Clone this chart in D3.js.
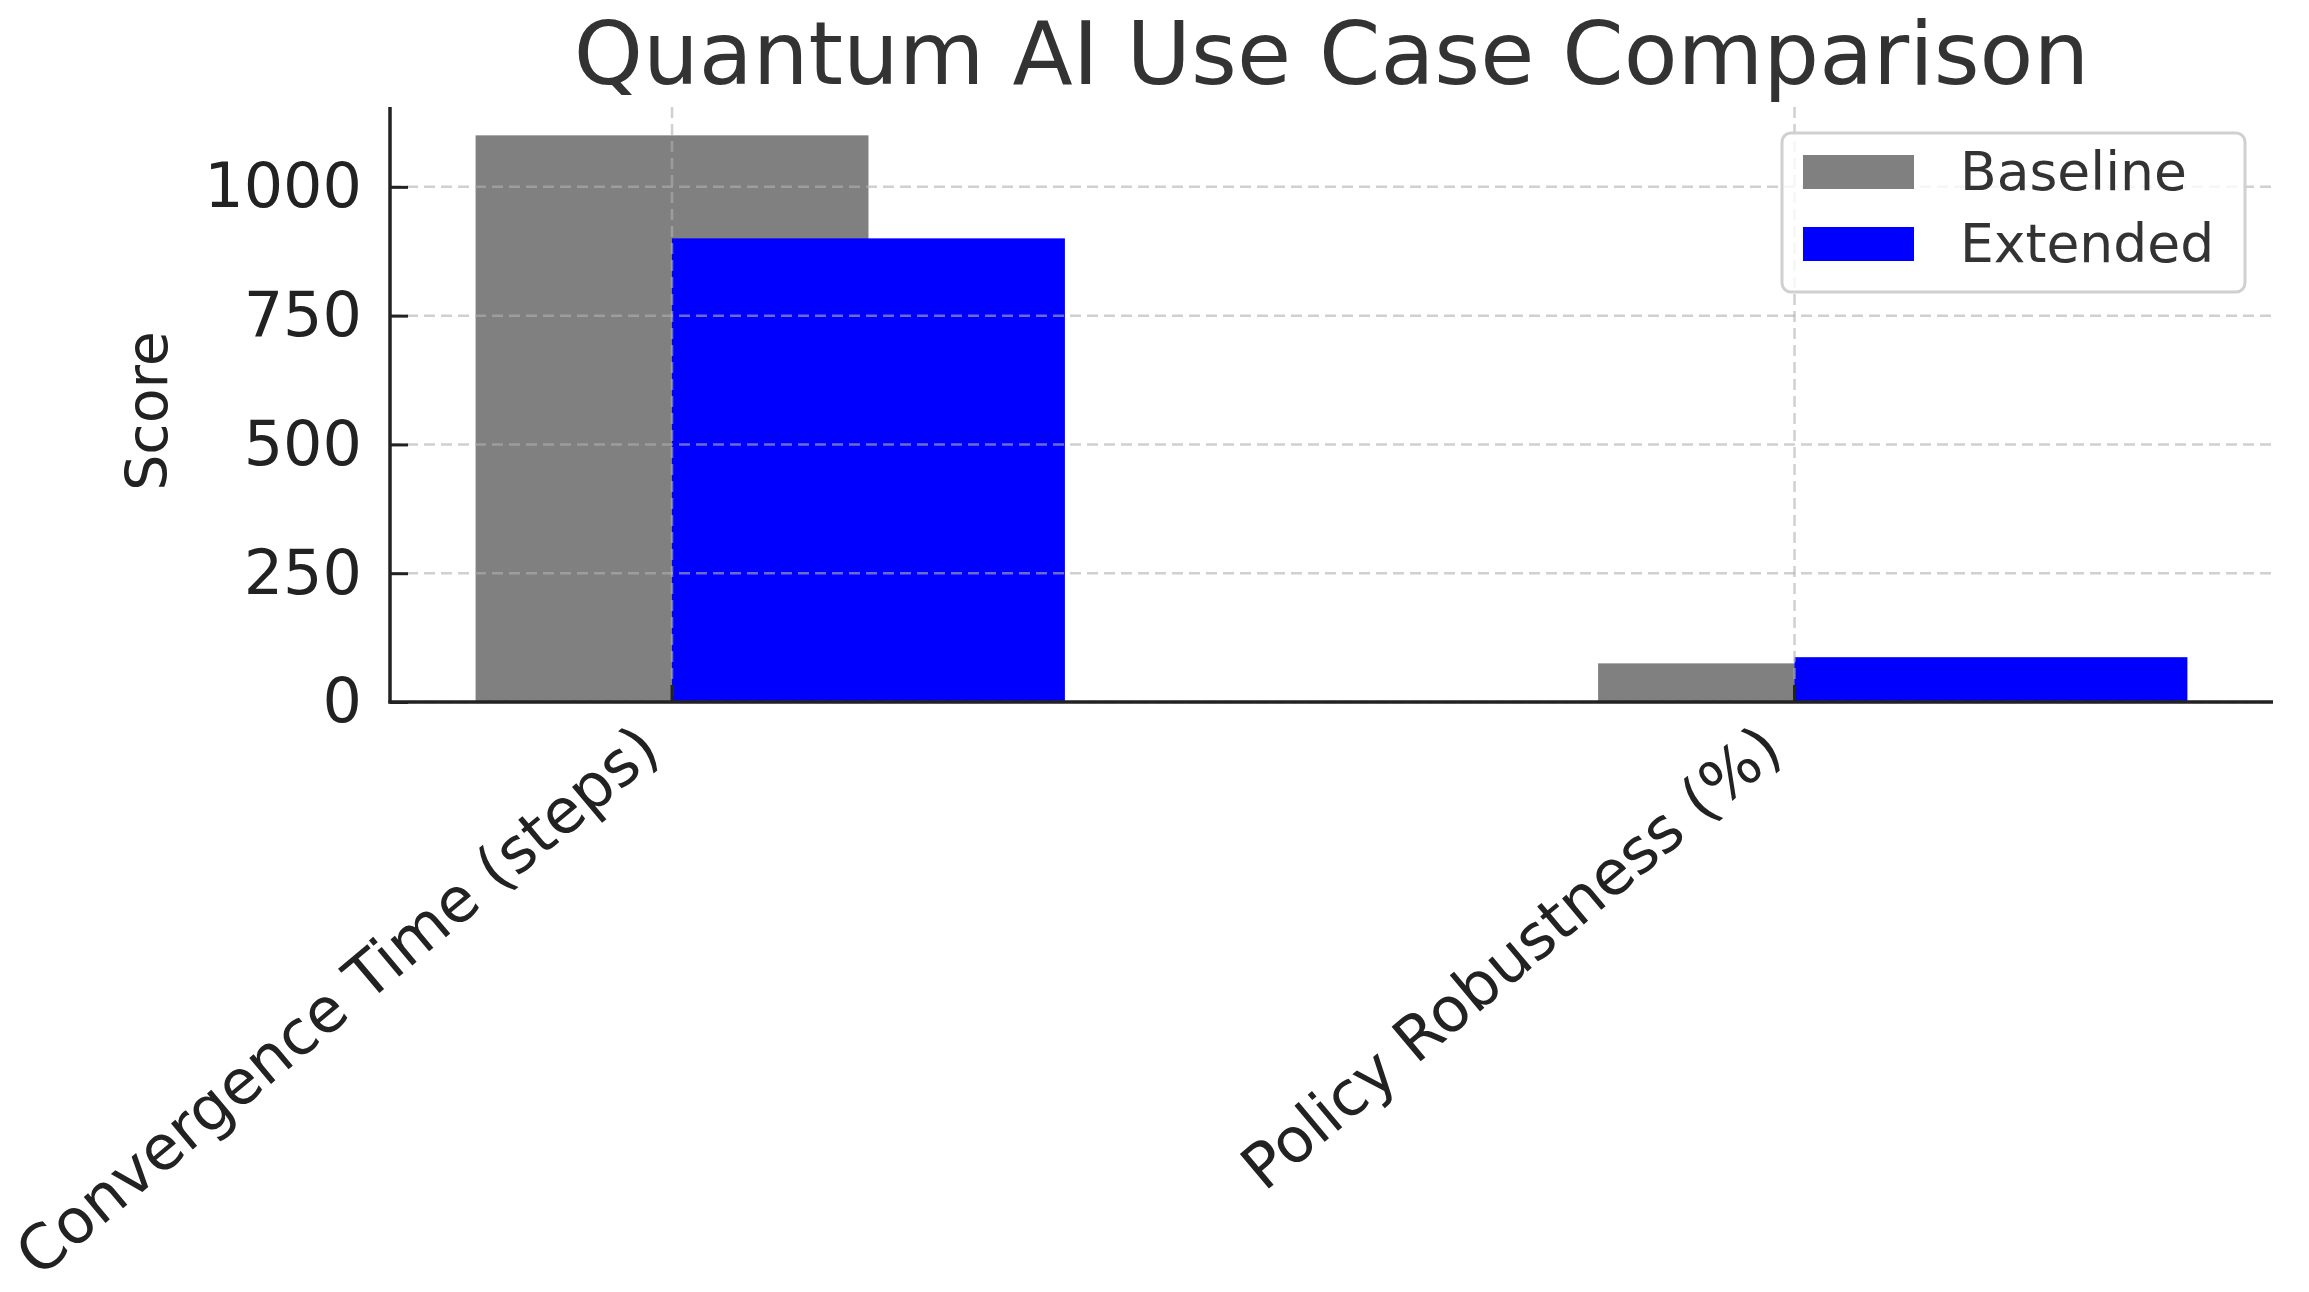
<!DOCTYPE html>
<html>
<head>
<meta charset="utf-8">
<script src="https://cdn.jsdelivr.net/npm/d3@7"></script>
<style>
  html, body { margin: 0; padding: 0; background: #fff; }
  svg { display: block; }
</style>
</head>
<body>
<svg id="chart"></svg>
<script>
const categories = ['Convergence Time (steps)', 'Policy Robustness (%)']
const seriesNames = ['Baseline', 'Extended']
const baseline = [1100, 75]
const extended = [900, 87]
const yTicks = [0, 250, 500, 750, 1000]
const colors = ['#808080', '#0000ff']

const width = 2309
const height = 1292
const plotLeft = 390, plotRight = 2273, plotTop = 107, plotBottom = 702
const barW = 0.35
const font = 'DejaVu Sans, sans-serif'

const svg = d3.select('#chart').attr('width', width).attr('height', height)

const x = d3.scaleLinear()
  .domain([-barW / 2 - 0.07625, 1 + barW + 0.07625])
  .range([plotLeft, plotRight])

const y = d3.scaleLinear()
  .domain([0, 1155])
  .range([plotBottom, plotTop])

const bars = svg.append('g')

// baseline bars are centred on the tick, extended ones start at the tick
bars.selectAll('rect.base')
  .data(baseline)
  .enter()
  .append('rect')
    .attr('class', 'base')
    .attr('x', (d, i) => x(i - barW / 2))
    .attr('width', x(barW) - x(0))
    .attr('y', d => y(d))
    .attr('height', d => y(0) - y(d))
    .style('fill', colors[0])

bars.selectAll('rect.ext')
  .data(extended)
  .enter()
  .append('rect')
    .attr('class', 'ext')
    .attr('x', (d, i) => x(i))
    .attr('width', x(barW) - x(0))
    .attr('y', d => y(d))
    .attr('height', d => y(0) - y(d))
    .style('fill', colors[1])

// grid sits above the bars
const grid = svg.append('g')
  .style('stroke', '#b0b0b0')
  .style('stroke-opacity', 0.6)
  .style('stroke-width', 2.5)
  .style('stroke-dasharray', '11,6')

grid.selectAll('line.h')
  .data(yTicks)
  .enter()
  .append('line')
    .attr('class', 'h')
    .attr('x1', plotLeft).attr('x2', plotRight)
    .attr('y1', d => y(d)).attr('y2', d => y(d))

grid.selectAll('line.v')
  .data(categories)
  .enter()
  .append('line')
    .attr('class', 'v')
    .attr('x1', (d, i) => x(i)).attr('x2', (d, i) => x(i))
    .attr('y1', plotTop).attr('y2', plotBottom)

// axes
const y_axis = d3.axisLeft(y)
  .tickValues(yTicks)
  .tickFormat(d3.format('d'))
  .tickSize(-18)
  .tickPadding(28)

const yg = svg.append('g')
  .attr('transform', `translate(${plotLeft}, 0)`)
  .call(y_axis)

yg.select('.domain').remove()
yg.selectAll('.tick line').style('stroke', '#222').style('stroke-width', 3)
yg.selectAll('.tick text')
  .style('font-family', font)
  .style('font-size', '62px')
  .style('fill', '#222')

const xg = svg.append('g')

xg.selectAll('line')
  .data(categories)
  .enter()
  .append('line')
    .attr('x1', (d, i) => x(i)).attr('x2', (d, i) => x(i))
    .attr('y1', plotBottom).attr('y2', plotBottom - 17)
    .style('stroke', '#222')
    .style('stroke-width', 3)

xg.selectAll('text')
  .data(categories)
  .enter()
  .append('text')
    .attr('transform', (d, i) => `translate(${x(i) - 9}, ${plotBottom + 53}) rotate(-40)`)
    .attr('text-anchor', 'end')
    .style('font-family', font)
    .style('font-size', '62px')
    .style('fill', '#222')
    .text(d => d)

// spines
svg.append('line')
  .attr('x1', plotLeft).attr('x2', plotLeft)
  .attr('y1', plotTop).attr('y2', plotBottom + 1.5)
  .style('stroke', '#222').style('stroke-width', 3.5)

svg.append('line')
  .attr('x1', plotLeft - 1.5).attr('x2', plotRight)
  .attr('y1', plotBottom).attr('y2', plotBottom)
  .style('stroke', '#222').style('stroke-width', 3.5)

// labels
svg.append('text')
  .attr('transform', `translate(167, 411) rotate(-90)`)
  .attr('text-anchor', 'middle')
  .style('font-family', font)
  .style('font-size', '57px')
  .style('fill', '#222')
  .text('Score')

svg.append('text')
  .attr('x', (plotLeft + plotRight) / 2)
  .attr('y', 84)
  .attr('text-anchor', 'middle')
  .style('font-family', font)
  .style('font-size', '88px')
  .style('fill', '#333')
  .text('Quantum AI Use Case Comparison')

// legend
const legend = svg.append('g')

legend.append('rect')
  .attr('x', 1782).attr('y', 133)
  .attr('width', 463).attr('height', 159)
  .attr('rx', 9)
  .style('fill', '#fff')
  .style('fill-opacity', 0.8)
  .style('stroke', '#d0d0d0')
  .style('stroke-width', 3)

const items = legend.selectAll('g.item')
  .data(seriesNames)
  .enter()
  .append('g')
    .attr('class', 'item')
    .attr('transform', (d, i) => `translate(1803, ${155 + i * 72})`)

items.append('rect')
  .attr('width', 111)
  .attr('height', 34)
  .style('fill', (d, i) => colors[i])

items.append('text')
  .attr('x', 157)
  .attr('y', 35)
  .style('font-family', font)
  .style('font-size', '53.5px')
  .style('fill', '#333')
  .text(d => d)
</script>
</body>
</html>
